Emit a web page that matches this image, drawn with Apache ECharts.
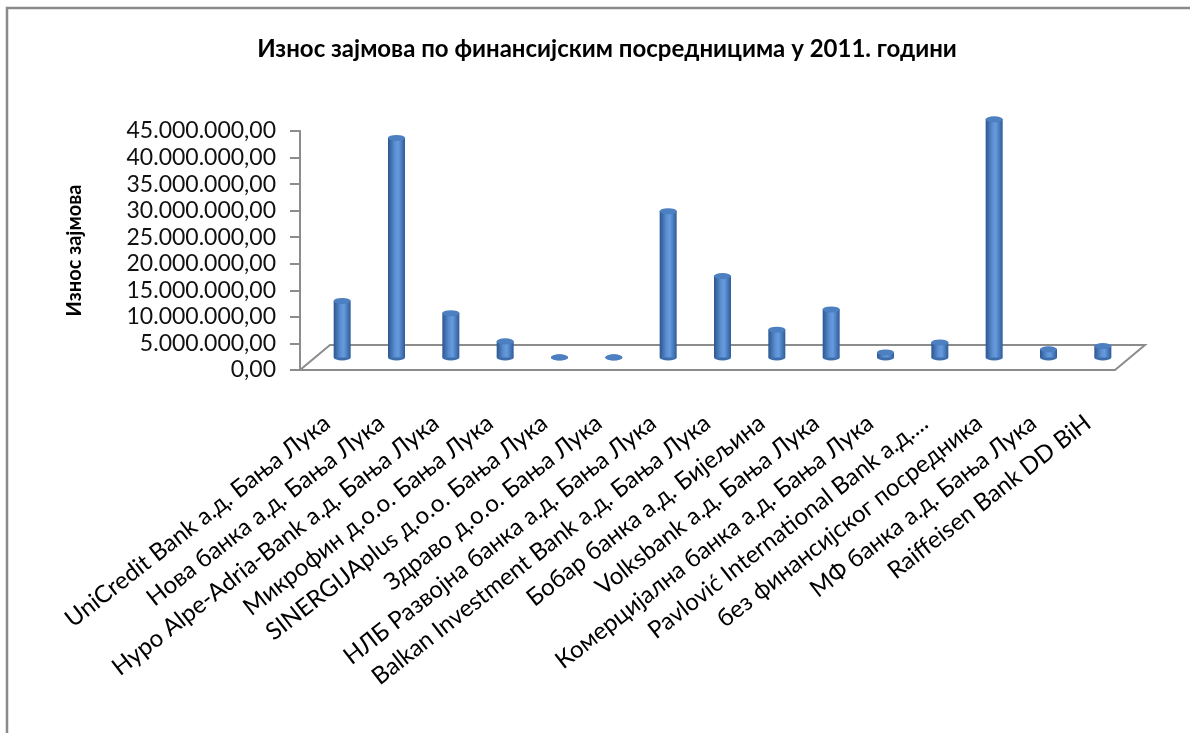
<!DOCTYPE html>
<html><head><meta charset="utf-8">
<script src="https://cdn.jsdelivr.net/npm/echarts@6/dist/echarts.min.js"></script>
<style>html,body{margin:0;padding:0;background:#fff}#c{width:1190px;height:733px}</style>
</head><body><div id="c"></div>
<script>
const titleText = 'Износ зајмова по финансијским посредницима у 2011. години';
const yAxisName = 'Износ зајмова';
const categories = [
  'UniCredit Bank а.д. Бања Лука',
  'Нова банка а.д. Бања Лука',
  'Hypo Alpe-Adria-Bank а.д. Бања Лука',
  'Микрофин д.о.о. Бања Лука',
  'SINERGIJAplus д.о.о. Бања Лука',
  'Здраво д.о.о. Бања Лука',
  'НЛБ Развојна банка а.д. Бања Лука',
  'Balkan Investment Bank а.д. Бања Лука',
  'Бобар банка а.д. Бијељина',
  'Volksbank а.д. Бања Лука',
  'Комерцијална банка а.д. Бања Лука',
  'Pavlović International Bank а.д....',
  'без финансијског посредника',
  'МФ банка а.д. Бања Лука',
  'Raiffeisen Bank DD BiH'
];
const values = [10700000, 41400000, 8400000, 3100000, 100000, 100000, 27600000, 15400000, 5300000, 9100000, 1000000, 2900000, 44900000, 1600000, 2200000];
const yMin = 0, yMax = 45000000, yStep = 5000000;

function fmt(v) {
  const s = Math.round(v).toString().replace(/\B(?=(\d{3})+(?!\d))/g, '.');
  return s + ',00';
}

const W = 1190, H = 733;
// front floor edge / axis
const fL = 300, fR = 1115, fBase = 370, fTop = 131;
// depth offset of the 3D floor
const dX = 30, dY = -25;
// bars sit at mid depth
const mX = dX / 2, mY = dY / 2;

const gray = '#8c8c8c';
const font = 'Lato, "Open Sans", sans-serif';

const bodyColor = new echarts.graphic.LinearGradient(0, 0, 1, 0, [
  { offset: 0, color: '#2b5690' },
  { offset: 0.4, color: '#5b8fd0' },
  { offset: 0.6, color: '#669be0' },
  { offset: 1, color: '#2e5b97' }
]);

const chart = echarts.init(document.getElementById('c'), null, { renderer: 'canvas' });
chart.setOption({
  backgroundColor: '#fff',
  animation: false,
  title: {
    text: titleText,
    left: 602, top: 32, textAlign: 'center',
    textStyle: { fontFamily: font, fontWeight: 'bold', fontSize: 24, color: '#000' }
  },
  graphic: [
    { type: 'rect', z: 100, silent: true,
      shape: { x: 7, y: 8, width: W, height: H },
      style: { fill: 'none', stroke: '#8a8a8a', lineWidth: 2.5 } },
    { type: 'polygon', z: 0, silent: true,
      shape: { points: [[fL, fBase], [fR, fBase], [fR + dX, fBase + dY], [fL + dX, fBase + dY]] },
      style: { fill: 'none', stroke: gray, lineWidth: 2 } }
  ],
  grid: [
    { left: fL, right: W - fR, top: fTop, bottom: H - fBase, containLabel: false },
    { left: fL + mX, right: W - fR - mX, top: fTop + mY, bottom: H - fBase - mY, containLabel: false }
  ],
  xAxis: [
    { gridIndex: 0, type: 'category', data: categories,
      axisLine: { show: false }, axisTick: { show: false },
      axisLabel: { interval: 0, rotate: 38, margin: 50, fontFamily: font, fontSize: 24, color: '#000' } },
    { gridIndex: 1, type: 'category', data: categories, show: false }
  ],
  yAxis: [
    { gridIndex: 0, type: 'value', min: yMin, max: yMax, interval: yStep,
      name: yAxisName, nameLocation: 'middle', nameGap: 215, nameRotate: 90,
      nameTextStyle: { fontFamily: font, fontWeight: 'bold', fontSize: 20, color: '#000' },
      axisLine: { show: true, lineStyle: { color: gray, width: 2 } },
      axisTick: { show: true, length: 10, lineStyle: { color: gray, width: 2 } },
      splitLine: { show: false },
      axisLabel: { margin: 24, fontFamily: font, fontSize: 23, color: '#111', formatter: fmt } },
    { gridIndex: 1, type: 'value', min: yMin, max: yMax, interval: yStep, show: false, splitLine: { show: false } }
  ],
  series: [
    { type: 'bar', xAxisIndex: 1, yAxisIndex: 1, data: values, barWidth: 17, z: 3,
      itemStyle: { color: bodyColor } },
    { type: 'pictorialBar', xAxisIndex: 1, yAxisIndex: 1, data: values, z: 2,
      symbol: 'circle', symbolSize: [17, 6], symbolPosition: 'start', symbolOffset: [0, '50%'],
      barGap: '-100%', itemStyle: { color: '#3d6dab' } },
    { type: 'pictorialBar', xAxisIndex: 1, yAxisIndex: 1, data: values, z: 4,
      symbol: 'circle', symbolSize: [17, 6], symbolPosition: 'end', symbolOffset: [0, '-50%'],
      barGap: '-100%', itemStyle: { color: '#4d80c0', borderColor: '#2f5d99', borderWidth: 1 } }
  ]
});
</script>
</body></html>
